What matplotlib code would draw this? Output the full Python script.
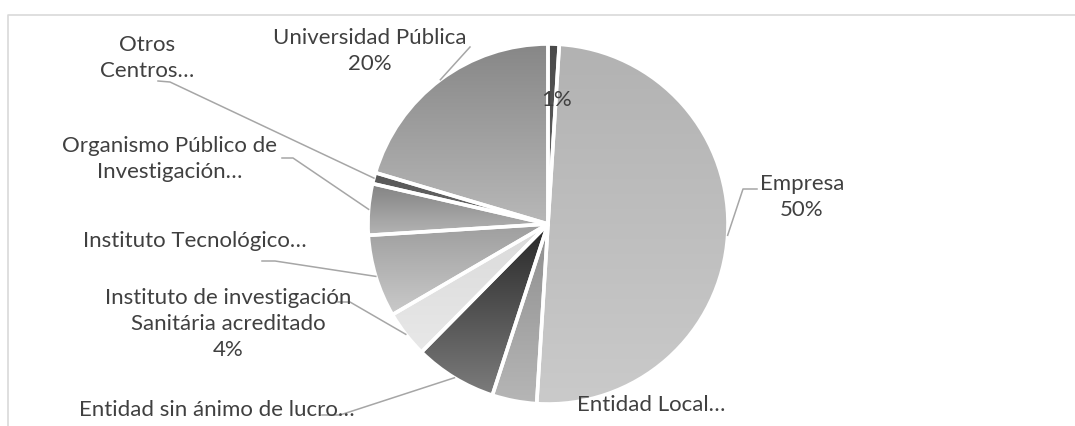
import numpy as np
import matplotlib
matplotlib.use("Agg")
import matplotlib.pyplot as plt
from matplotlib.patches import Wedge
from matplotlib.colors import LinearSegmentedColormap

W, H = 1075, 427

# slices clockwise from 12 o'clock
categories = ["", "Empresa", "Entidad Local…", "Entidad sin ánimo de lucro…",
              "Instituto de investigación\nSanitária acreditado",
              "Instituto Tecnológico…", "Organismo Público de\nInvestigación…",
              "Otros\nCentros…", "Universidad Pública"]
shares = [1.0, 50.0, 4.0, 7.4, 4.2, 7.4, 4.6, 1.0, 20.4]
show_pct = [True, True, False, False, True, False, False, False, True]

# vertical gradient of each slice (top, bottom)
grad_top = ["#4a4a4a", "#b2b2b2", "#8e8e8e", "#262626", "#dadada",
            "#9e9e9e", "#828282", "#565656", "#878787"]
grad_bot = ["#666666", "#cacaca", "#b6b6b6", "#7c7c7c", "#e8e8e8",
            "#cacaca", "#b4b4b4", "#6a6a6a", "#b8b8b8"]

# label placement in pixels from top-left: text centre, elbow, end of stub
label_pos = [
    ((557, 100), None, None),
    ((802, 197), (743, 190), (757, 190)),
    ((651, 405), None, None),
    ((217, 410), (340, 416), (322, 416)),
    ((228, 324), (350, 303), (338, 303)),
    ((195, 241), (275, 262), (262, 262)),
    ((170, 159), (293, 159), (282, 159)),
    ((147, 58), (170, 83), (158, 82)),
    ((370, 51), (470, 48), None),
]

TXT = "#404040"
LINE = "#a6a6a6"
plt.rcParams['font.family'] = ['Lato', 'DejaVu Sans']

fig = plt.figure(figsize=(W / 100, H / 100), dpi=100)
ax = fig.add_axes([0, 0, 1, 1])

cx, cy, r = 548, H - 225, 180

wedges, _ = ax.pie(shares, startangle=90, counterclock=False, center=(cx, cy),
                   radius=r, colors=grad_bot, frame=True,
                   wedgeprops=dict(edgecolor="white", linewidth=2.6))
ax.set_xlim(0, W)
ax.set_ylim(0, H)
ax.axis("off")

for w, c0, c1 in zip(wedges, grad_top, grad_bot):
    x0, y0, x1, y1 = w.get_path().get_extents().extents
    cmap = LinearSegmentedColormap.from_list("g", [c1, c0])
    grad = np.linspace(0, 1, 256).reshape(-1, 1)
    im = ax.imshow(grad, cmap=cmap, extent=(x0, x1, y0, y1), origin="lower",
                   aspect="auto", zorder=w.get_zorder() + 0.1)
    im.set_clip_path(w)
    ax.add_patch(Wedge(w.center, w.r, w.theta1, w.theta2, facecolor="none",
                       edgecolor="white", linewidth=2.6,
                       zorder=w.get_zorder() + 0.2))

for w, name, pct, shown, (tpos, elbow, stub) in zip(
        wedges, categories, shares, show_pct, label_pos):
    txt = name
    if shown:
        txt = (name + "\n" if name else "") + f"{pct:.0f}%"
    tx, ty = tpos
    ax.text(tx, H - ty, txt, ha="center", va="center", fontsize=16,
            color=TXT, linespacing=1.38, zorder=10)
    if elbow is not None:
        mid = np.deg2rad((w.theta1 + w.theta2) / 2)
        ax_, ay_ = cx + r * np.cos(mid), cy + r * np.sin(mid)
        xs, ys = [ax_, elbow[0]], [ay_, H - elbow[1]]
        if stub is not None:
            xs.append(stub[0])
            ys.append(H - stub[1])
        ax.plot(xs, ys, color=LINE, lw=1.1, zorder=9)

# chart frame
ax.plot([8, 8, W + 5], [-5, H - 16, H - 16], color="#d9d9d9", lw=1.2, zorder=1)

fig.savefig("out.png", dpi=100)
